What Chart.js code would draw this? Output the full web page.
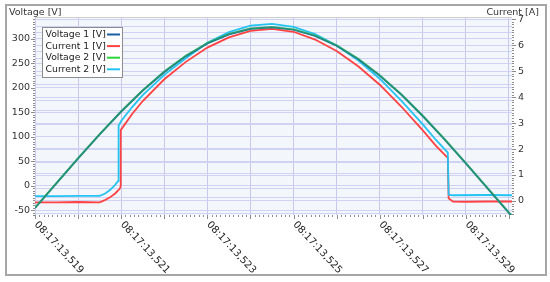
<!DOCTYPE html>
<html><head><meta charset="utf-8">
<script src="https://cdn.jsdelivr.net/npm/chart.js@4.4.1/dist/chart.umd.min.js"></script>
<style>html,body{margin:0;padding:0;background:#fff;}#wrap{width:550px;height:282px;}</style>
</head><body><div id="wrap"><canvas id="c" width="550" height="282"></canvas></div>
<script>
// ---- data (time in ms after 08:17:13,519) ----
const seriesNames = ['Voltage 1 [V]', 'Current 1 [V]', 'Voltage 2 [V]', 'Current 2 [V]'];
const xTickValues = [0, 2, 4, 6, 8, 10];
const xTickLabels = ['08:17:13,519', '08:17:13,521', '08:17:13,523', '08:17:13,525', '08:17:13,527', '08:17:13,529'];

const voltageTime = [0, 0.5, 1, 1.5, 2, 2.5, 3, 3.5, 4, 4.5, 5, 5.5, 6, 6.5, 7, 7.5, 8, 8.5, 9, 9.5, 10, 10.5, 11, 11.07];
const voltage1 = [-45.6, 5.1, 55.7, 104.9, 151.6, 194.5, 232.7, 265.1, 291.0, 309.7, 320.8, 324.0, 319.2, 306.5, 286.4, 259.1, 225.5, 186.3, 142.5, 95.3, 45.6, -5.1, -55.7, -62.7];
const voltage2 = [-45.0, 5.5, 56.5, 105.5, 152.0, 195.0, 233.5, 266.0, 292.0, 310.5, 321.5, 324.5, 320.0, 307.5, 287.0, 260.0, 226.0, 187.0, 143.0, 96.0, 46.0, -4.5, -55.0, -62.0];

const current1Time = [0, 0.5, 1.0, 1.5, 1.62, 1.74, 1.86, 1.97, 1.99, 1.99, 2.25, 2.5, 3, 3.5, 4, 4.5, 5, 5.5, 6, 6.5, 7, 7.5, 8, 8.5, 9, 9.3, 9.58, 9.6, 9.7, 10, 10.5, 11.07];
const current1 = [-0.05, -0.05, -0.04, -0.05, 0.03, 0.14, 0.29, 0.48, 0.58, 2.73, 3.34, 3.85, 4.69, 5.36, 5.91, 6.30, 6.55, 6.63, 6.52, 6.22, 5.78, 5.19, 4.48, 3.64, 2.72, 2.13, 1.66, 0.10, -0.02, -0.03, -0.02, -0.02];

const current2Time = [0, 0.5, 1.0, 1.5, 1.62, 1.74, 1.86, 1.93, 1.94, 2.0, 2.25, 2.5, 3, 3.5, 4, 4.5, 5, 5.5, 6, 6.5, 7, 7.5, 8, 8.5, 9, 9.3, 9.58, 9.6, 9.7, 10.5, 11.07];
const current2 = [0.19, 0.19, 0.20, 0.20, 0.28, 0.42, 0.62, 0.77, 2.90, 3.08, 3.61, 4.08, 4.86, 5.50, 6.10, 6.51, 6.76, 6.82, 6.71, 6.43, 5.99, 5.42, 4.71, 3.87, 2.95, 2.36, 1.86, 0.24, 0.22, 0.23, 0.22];

// ---- styles ----
const seriesColors = ['#1b5f9e', '#ff4242', '#2bd63a', '#25c3f2'];
const FONT = '"DejaVu Sans", Verdana, sans-serif';
Chart.defaults.font.family = FONT;

const pts = (xs, ys) => xs.map((x, i) => ({x: x, y: ys[i]}));

function minorMarks(ctx, scale, step, draw) {
  const n0 = Math.ceil(scale.min / step - 1e-9), n1 = Math.floor(scale.max / step + 1e-9);
  for (let n = n0; n <= n1; n++) draw(Math.round(scale.getPixelForValue(n * step)) + 0.5, n);
}

const decor = {
  id: 'decor',
  beforeDraw(chart) {
    const ctx = chart.ctx, a = chart.chartArea;
    ctx.save();
    ctx.fillStyle = '#ffffff';
    ctx.fillRect(0, 0, chart.width, chart.height);
    ctx.fillStyle = '#f3f6fa';
    ctx.fillRect(a.left, a.top, a.right - a.left, a.bottom - a.top);
    ctx.strokeStyle = '#a6a6a6';
    ctx.lineWidth = 2;
    ctx.strokeRect(6, 5, 540, 270);
    ctx.strokeStyle = '#cfcfcf';
    ctx.lineWidth = 1;
    ctx.beginPath(); ctx.moveTo(a.left, a.top - 0.5); ctx.lineTo(a.right, a.top - 0.5); ctx.stroke();
    ctx.restore();
  },
  afterDraw(chart) {
    const ctx = chart.ctx, xs = chart.scales.x, a = chart.chartArea;
    ctx.save();
    // minor tick marks along the axes
    ctx.strokeStyle = '#8c8c8c';
    ctx.lineWidth = 1;
    ctx.beginPath();
    minorMarks(ctx, chart.scales.y, 5, (p, n) => { const l = (n % 10 === 0) ? 4 : 2; ctx.moveTo(a.left - l, p); ctx.lineTo(a.left, p); });
    minorMarks(ctx, chart.scales.y1, 0.1, (p, n) => { const l = (n % 10 === 0) ? 4 : 2; ctx.moveTo(a.right, p); ctx.lineTo(a.right + l, p); });
    minorMarks(ctx, xs, 0.1, (p, n) => { const l = (n % 10 === 0) ? 4 : 2; ctx.moveTo(p, a.bottom); ctx.lineTo(p, a.bottom + l); });
    ctx.stroke();
    // axis titles
    ctx.fillStyle = '#333';
    ctx.font = '9.5px ' + FONT;
    ctx.textBaseline = 'middle';
    ctx.textAlign = 'left';
    ctx.fillText('Voltage [V]', 9, 12.5);
    ctx.textAlign = 'right';
    ctx.fillText('Current [A]', 539, 13);
    // rotated x tick labels
    ctx.font = '10px ' + FONT;
    ctx.fillStyle = '#222';
    ctx.textAlign = 'left';
    ctx.textBaseline = 'middle';
    xTickValues.forEach((v, i) => {
      const px = xs.getPixelForValue(v);
      ctx.save();
      ctx.translate(px + 1, 223);
      ctx.rotate(47 * Math.PI / 180);
      ctx.fillText(xTickLabels[i], 0, 0);
      ctx.restore();
    });
    // legend box
    const lx = 42, ly = 27, lw = 80, lh = 50;
    ctx.fillStyle = 'rgba(255,255,255,0.95)';
    ctx.fillRect(lx, ly, lw, lh);
    ctx.strokeStyle = '#8c8c8c';
    ctx.lineWidth = 1;
    ctx.strokeRect(lx + 0.5, ly + 0.5, lw, lh);
    ctx.font = '9.3px ' + FONT;
    seriesNames.forEach((name, i) => {
      const y = 34.5 + i * 11.6;
      ctx.fillStyle = '#222';
      ctx.textAlign = 'left';
      ctx.fillText(name, 45.5, y);
      ctx.strokeStyle = seriesColors[i];
      ctx.lineWidth = 2;
      ctx.beginPath(); ctx.moveTo(107, y); ctx.lineTo(120, y); ctx.stroke();
    });
    ctx.restore();
  }
};

const gridCol = '#cfd2f2';

new Chart(document.getElementById('c'), {
  type: 'line',
  data: {
    datasets: [
      {label: seriesNames[0], data: pts(voltageTime, voltage1), yAxisID: 'y', borderColor: seriesColors[0], borderWidth: 2, order: 2},
      {label: seriesNames[1], data: pts(current1Time, current1), yAxisID: 'y1', borderColor: seriesColors[1], borderWidth: 1.8, order: 4},
      {label: seriesNames[2], data: pts(voltageTime, voltage2), yAxisID: 'y', borderColor: 'rgba(43,214,58,0.45)', borderWidth: 2, order: 1},
      {label: seriesNames[3], data: pts(current2Time, current2), yAxisID: 'y1', borderColor: seriesColors[3], borderWidth: 1.8, order: 3}
    ]
  },
  options: {
    responsive: false,
    animation: false,
    devicePixelRatio: 1,
    elements: {point: {radius: 0}, line: {tension: 0, fill: false}},
    layout: {padding: {left: 0, right: 0, top: 18, bottom: 67}},
    plugins: {legend: {display: false}, tooltip: {enabled: false}, title: {display: false}},
    scales: {
      x: {
        type: 'linear', position: 'bottom', min: 0, max: 11.07,
        ticks: {stepSize: 1, display: false, includeBounds: false},
        grid: {color: '#c6c8ee', drawTicks: false},
        border: {display: false},
        afterFit: s => { s.height = 0; }
      },
      y: {
        type: 'linear', position: 'left', min: -60, max: 342.95,
        ticks: {stepSize: 25, autoSkip: false, includeBounds: false, color: '#333', font: {size: 9.5}, padding: 5,
          callback: v => (Math.round(v) === v && v % 50 === 0) ? String(v) : ''},
        grid: {color: gridCol, drawTicks: false},
        border: {display: false},
        afterFit: s => { s.width = 35; }
      },
      y1: {
        type: 'linear', position: 'right', min: -0.54, max: 7.05,
        ticks: {stepSize: 0.5, autoSkip: false, includeBounds: false, color: '#333', font: {size: 9.5}, padding: 6,
          callback: v => (Math.abs(v - Math.round(v)) < 1e-6) ? String(Math.round(v)) : ''},
        grid: {color: gridCol, drawTicks: false, drawOnChartArea: true},
        border: {display: false},
        afterFit: s => { s.width = 38; }
      }
    }
  },
  plugins: [decor]
});
</script>
</body></html>
